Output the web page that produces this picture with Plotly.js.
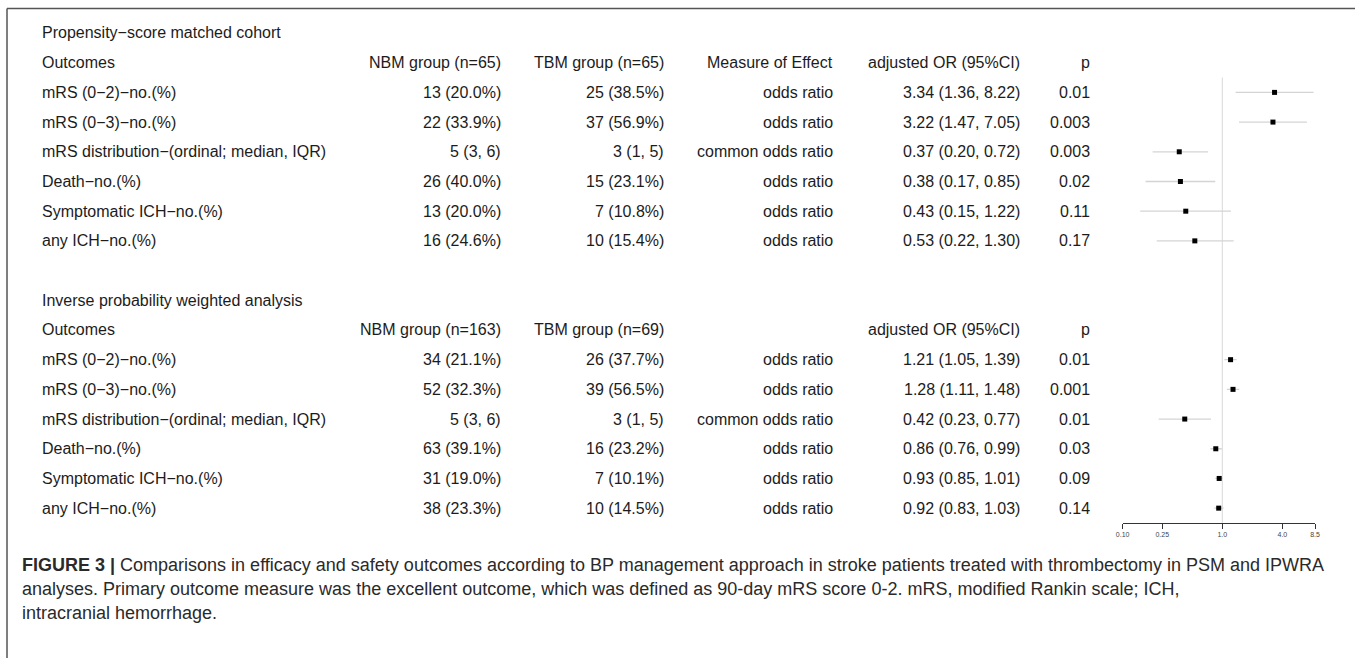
<!DOCTYPE html>
<html>
<head>
<meta charset="utf-8">
<script src="https://cdn.plot.ly/plotly-3.0.1.min.js"></script>
<style>
  html, body { margin: 0; padding: 0; background: #ffffff; }
  #chart { width: 1355px; height: 658px; }
</style>
</head>
<body>
<div id="chart"></div>
<script>
// ---------------- data ----------------
const outcomes = ["mRS (0\u22122)\u2212no.(%)", "mRS (0\u22123)\u2212no.(%)", "mRS distribution\u2212(ordinal; median, IQR)",
                  "Death\u2212no.(%)", "Symptomatic ICH\u2212no.(%)", "any ICH\u2212no.(%)"];
const measures = ["odds ratio", "odds ratio", "common odds ratio", "odds ratio", "odds ratio", "odds ratio"];

const psmTitle = "Propensity\u2212score matched cohort";
const psmHeader = ["Outcomes", "NBM group (n=65)", "TBM group (n=65)", "Measure of Effect", "adjusted OR (95%CI)", "p"];
const psmNBM = ["13 (20.0%)", "22 (33.9%)", "5 (3, 6)", "26 (40.0%)", "13 (20.0%)", "16 (24.6%)"];
const psmTBM = ["25 (38.5%)", "37 (56.9%)", "3 (1, 5)", "15 (23.1%)", "7 (10.8%)", "10 (15.4%)"];
const psmOR  = [3.34, 3.22, 0.37, 0.38, 0.43, 0.53];
const psmLo  = [1.36, 1.47, 0.20, 0.17, 0.15, 0.22];
const psmHi  = [8.22, 7.05, 0.72, 0.85, 1.22, 1.30];
const psmP   = ["0.01", "0.003", "0.003", "0.02", "0.11", "0.17"];

const ipwTitle = "Inverse probability weighted analysis";
const ipwHeader = ["Outcomes", "NBM group (n=163)", "TBM group (n=69)", "", "adjusted OR (95%CI)", "p"];
const ipwNBM = ["34 (21.1%)", "52 (32.3%)", "5 (3, 6)", "63 (39.1%)", "31 (19.0%)", "38 (23.3%)"];
const ipwTBM = ["26 (37.7%)", "39 (56.5%)", "3 (1, 5)", "16 (23.2%)", "7 (10.1%)", "10 (14.5%)"];
const ipwOR  = [1.21, 1.28, 0.42, 0.86, 0.93, 0.92];
const ipwLo  = [1.05, 1.11, 0.23, 0.76, 0.85, 0.83];
const ipwHi  = [1.39, 1.48, 0.77, 0.99, 1.01, 1.03];
const ipwP   = ["0.01", "0.001", "0.01", "0.03", "0.09", "0.14"];

const tickVals = [0.10, 0.25, 1.0, 4.0, 8.5];
const tickText = ["0.10", "0.25", "1.0", "4.0", "8.5"];

const captionLines = [
  "<b>FIGURE 3 |</b> Comparisons in efficacy and safety outcomes according to BP management approach in stroke patients treated with thrombectomy in PSM and IPWRA",
  "analyses. Primary outcome measure was the excellent outcome, which was defined as 90-day mRS score 0-2. mRS, modified Rankin scale; ICH,",
  "intracranial hemorrhage."
];

// ---------------- layout helpers ----------------
const W = 1355, H = 658;
const px = v => v / W;
const py = v => 1 - v / H;

// row indices: 0 title, 1 header, 2-7 data; 8 blank; 9 title, 10 header, 11-16 data
const psmRows = outcomes.map((_, i) => 2 + i);
const ipwRows = outcomes.map((_, i) => 11 + i);

const TXT = "#1c1c1c";
const FONT = "Liberation Sans, Arial, sans-serif";

// column x positions (pixel) and anchors
const colLeft = 42;
const colRight = [501, 664, 833, 1020, 1090];

const annotations = [];
function addText(text, x, anchor, row) {
  annotations.push({
    text: text, x: px(x), xref: "paper", xanchor: anchor,
    y: row, yref: "y", yanchor: "middle",
    showarrow: false, borderpad: 0, borderwidth: 0,
    font: {family: FONT, size: 16, color: TXT}
  });
}
function addBlock(title, header, nbm, tbm, meas, orv, lo, hi, p, titleRow, rows) {
  addText(title, colLeft, "left", titleRow);
  addText(header[0], colLeft, "left", titleRow + 1);
  for (let c = 1; c < header.length; c++) {
    if (header[c]) addText(header[c], colRight[c - 1], "right", titleRow + 1);
  }
  rows.forEach((r, i) => {
    addText(outcomes[i], colLeft, "left", r);
    addText(nbm[i], colRight[0], "right", r);
    addText(tbm[i], colRight[1], "right", r);
    addText(meas[i], colRight[2], "right", r);
    addText(orv[i].toFixed(2) + " (" + lo[i].toFixed(2) + ", " + hi[i].toFixed(2) + ")", colRight[3], "right", r);
    addText(p[i], colRight[4], "right", r);
  });
}
addBlock(psmTitle, psmHeader, psmNBM, psmTBM, measures, psmOR, psmLo, psmHi, psmP, 0, psmRows);
addBlock(ipwTitle, ipwHeader, ipwNBM, ipwTBM, measures, ipwOR, ipwLo, ipwHi, ipwP, 9, ipwRows);

// caption
const capY = [565, 589, 613];
captionLines.forEach((t, i) => {
  annotations.push({
    text: t, x: px(22), xref: "paper", xanchor: "left",
    y: py(capY[i]), yref: "paper", yanchor: "middle",
    showarrow: false, borderpad: 0, borderwidth: 0,
    font: {family: "Liberation Sans Narrow, Liberation Sans, Arial, sans-serif", size: 18, color: "#2a2a2a"}
  });
});

// ---------------- traces ----------------
function ciTrace(orv, lo, hi, rows) {
  return {
    type: "scatter", mode: "markers",
    x: orv, y: rows,
    error_x: {
      type: "data", symmetric: false,
      array: orv.map((v, i) => hi[i] - v),
      arrayminus: orv.map((v, i) => v - lo[i]),
      color: "#d4d4d4", thickness: 1.3, width: 0
    },
    marker: {symbol: "square", size: 5, color: "#000000"},
    hoverinfo: "skip", showlegend: false, cliponaxis: false
  };
}

const data = [
  ciTrace(psmOR, psmLo, psmHi, psmRows),
  ciTrace(ipwOR, ipwLo, ipwHi, ipwRows)
];

const layout = {
  width: W, height: H,
  margin: {l: 0, r: 0, t: 0, b: 0},
  paper_bgcolor: "#ffffff", plot_bgcolor: "rgba(0,0,0,0)",
  showlegend: false,
  xaxis: {
    type: "log", domain: [px(1122.6), px(1315)],
    range: [Math.log10(0.1), Math.log10(8.5)],
    tickvals: tickVals, ticktext: tickText,
    ticks: "outside", ticklen: 5, tickwidth: 1, tickcolor: "#333333",
    showline: true, linecolor: "#333333", linewidth: 1,
    showgrid: false, zeroline: false,
    tickfont: {family: FONT, size: 7, color: "#444444"},
    fixedrange: true
  },
  yaxis: {
    domain: [py(523), py(18.15)],
    range: [16.5, -0.5],
    visible: false, showgrid: false, zeroline: false, fixedrange: true
  },
  shapes: [
    {type: "line", xref: "x", yref: "y", x0: 1, x1: 1, y0: 1.5, y1: 16.5,
     line: {color: "#d9d9d9", width: 1}, layer: "below"},
    {type: "line", xref: "paper", yref: "paper", x0: px(7), x1: 1, y0: py(8.5), y1: py(8.5),
     line: {color: "#555555", width: 1.5}},
    {type: "line", xref: "paper", yref: "paper", x0: px(7), x1: px(7), y0: py(8.5), y1: 0,
     line: {color: "#555555", width: 1.5}}
  ],
  annotations: annotations
};

Plotly.newPlot("chart", data, layout, {staticPlot: true, displayModeBar: false});
</script>
</body>
</html>
